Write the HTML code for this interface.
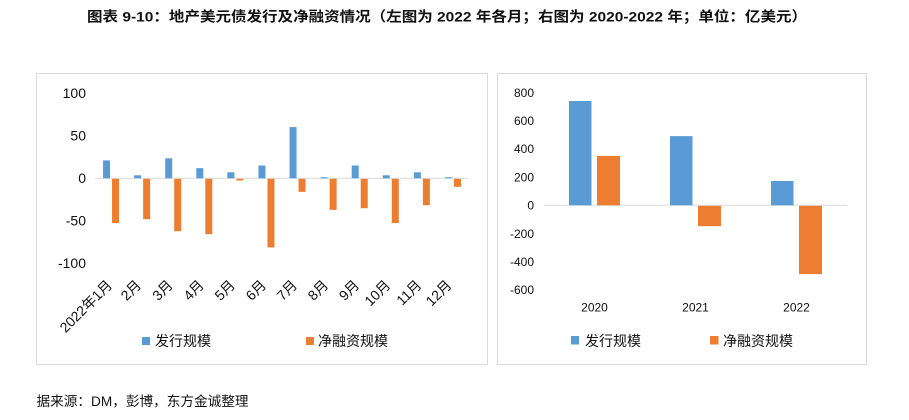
<!DOCTYPE html>
<html>
<head>
<meta charset="utf-8">
<style>
html,body{margin:0;padding:0;background:#fff;}
svg{display:block;}
text{font-family:"Liberation Sans","Noto Sans CJK SC",sans-serif;fill:#111;}
</style>
</head>
<body>
<svg width="909" height="420" viewBox="0 0 909 420" xmlns="http://www.w3.org/2000/svg">
  <!-- Title -->
  <text x="87" y="21.5" font-size="14" font-weight="bold" textLength="720" lengthAdjust="spacingAndGlyphs">图表 9-10：地产美元债发行及净融资情况（左图为 2022 年各月；右图为 2020-2022 年；单位：亿美元）</text>

  <!-- Left chart box -->
  <rect x="36.5" y="73.5" width="451" height="291" fill="#fff" stroke="#D9D9D9" stroke-width="1"/>
  <!-- Left y ticks -->
  <g font-size="14" text-anchor="end">
    <text x="86" y="98">100</text>
    <text x="86" y="140.5">50</text>
    <text x="86" y="183">0</text>
    <text x="86" y="225.5">-50</text>
    <text x="86" y="268">-100</text>
  </g>
  <!-- zero line -->
  <line x1="95" y1="178.3" x2="468" y2="178.3" stroke="#D9D9D9" stroke-width="1"/>
  <!-- blue bars -->
  <g fill="#5B9BD5">
    <rect x="103.04" y="160.4" width="7" height="17.9"/>
    <rect x="134.13" y="175.3" width="7" height="3"/>
    <rect x="165.21" y="158.3" width="7" height="20"/>
    <rect x="196.29" y="168.1" width="7" height="10.2"/>
    <rect x="227.38" y="172.3" width="7" height="6"/>
    <rect x="258.46" y="165.5" width="7" height="12.8"/>
    <rect x="289.54" y="127.1" width="7" height="51.2"/>
    <rect x="320.63" y="177.2" width="7" height="1.1"/>
    <rect x="351.71" y="165.5" width="7" height="12.8"/>
    <rect x="382.79" y="175.3" width="7" height="3"/>
    <rect x="413.88" y="172.3" width="7" height="6"/>
    <rect x="444.96" y="177.2" width="7" height="1.1"/>
  </g>
  <!-- orange bars -->
  <g fill="#ED7D31">
    <rect x="112.04" y="178.8" width="7" height="44.3"/>
    <rect x="143.13" y="178.8" width="7" height="40.4"/>
    <rect x="174.21" y="178.8" width="7" height="52.4"/>
    <rect x="205.29" y="178.8" width="7" height="55.4"/>
    <rect x="236.38" y="178.8" width="7" height="1.7"/>
    <rect x="267.46" y="178.8" width="7" height="68.6"/>
    <rect x="298.54" y="178.8" width="7" height="13.1"/>
    <rect x="329.63" y="178.8" width="7" height="31.1"/>
    <rect x="360.71" y="178.8" width="7" height="29.4"/>
    <rect x="391.79" y="178.8" width="7" height="44.3"/>
    <rect x="422.88" y="178.8" width="7" height="26.4"/>
    <rect x="453.96" y="178.8" width="7" height="8"/>
  </g>
  <!-- category labels rotated -->
  <g font-size="14" text-anchor="end">
    <text transform="translate(113,286) rotate(-45)">2022年1月</text>
    <text transform="translate(142,286) rotate(-45)">2月</text>
    <text transform="translate(173.7,286) rotate(-45)">3月</text>
    <text transform="translate(204.8,286) rotate(-45)">4月</text>
    <text transform="translate(235.9,286) rotate(-45)">5月</text>
    <text transform="translate(267,286) rotate(-45)">6月</text>
    <text transform="translate(298,286) rotate(-45)">7月</text>
    <text transform="translate(329.1,286) rotate(-45)">8月</text>
    <text transform="translate(360.2,286) rotate(-45)">9月</text>
    <text transform="translate(391.3,286) rotate(-45)">10月</text>
    <text transform="translate(422.4,286) rotate(-45)">11月</text>
    <text transform="translate(452.5,286) rotate(-45)">12月</text>
  </g>
  <!-- left legend -->
  <rect x="142" y="337" width="8" height="8" fill="#5B9BD5"/>
  <text x="155" y="346" font-size="14">发行规模</text>
  <rect x="306" y="337" width="8" height="8" fill="#ED7D31"/>
  <text x="318" y="346" font-size="14">净融资规模</text>

  <!-- Right chart box -->
  <rect x="497.5" y="73.5" width="369" height="291" fill="#fff" stroke="#D9D9D9" stroke-width="1"/>
  <g font-size="12" text-anchor="end">
    <text x="534" y="96.8">800</text>
    <text x="534" y="125">600</text>
    <text x="534" y="153.2">400</text>
    <text x="534" y="181.4">200</text>
    <text x="534" y="209.6">0</text>
    <text x="534" y="237.8">-200</text>
    <text x="534" y="266">-400</text>
    <text x="534" y="294.2">-600</text>
  </g>
  <line x1="544" y1="205.3" x2="847" y2="205.3" stroke="#D9D9D9" stroke-width="1"/>
  <g fill="#5B9BD5">
    <rect x="569" y="101" width="22.5" height="104.3"/>
    <rect x="670" y="136.1" width="22.5" height="69.2"/>
    <rect x="771" y="181" width="22.5" height="24.3"/>
  </g>
  <g fill="#ED7D31">
    <rect x="597" y="155.9" width="23" height="49.4"/>
    <rect x="698" y="205.8" width="23" height="20.4"/>
    <rect x="799" y="205.8" width="23" height="68.3"/>
  </g>
  <g font-size="12" text-anchor="middle">
    <text x="594.5" y="311.5">2020</text>
    <text x="695.5" y="311.5">2021</text>
    <text x="796.5" y="311.5">2022</text>
  </g>
  <rect x="571" y="336" width="8" height="8.5" fill="#5B9BD5"/>
  <text x="585" y="346" font-size="14">发行规模</text>
  <rect x="710" y="336" width="8.5" height="8.5" fill="#ED7D31"/>
  <text x="723" y="346" font-size="14">净融资规模</text>

  <!-- Footer -->
  <text x="36.5" y="406" font-size="13.5" textLength="212" lengthAdjust="spacingAndGlyphs">据来源：DM，彭博，东方金诚整理</text>
</svg>
</body>
</html>
